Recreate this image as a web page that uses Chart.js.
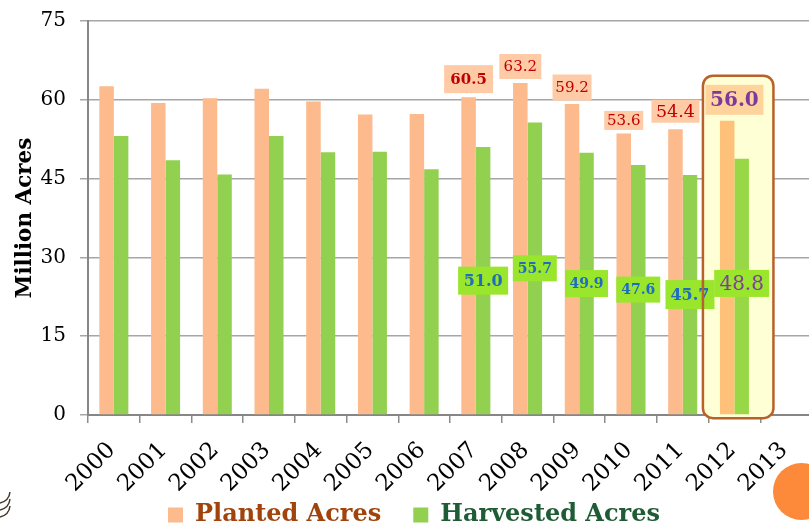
<!DOCTYPE html>
<html>
<head>
<meta charset="utf-8">
<script src="https://cdn.jsdelivr.net/npm/chart.js@4"></script>
<style>
  html, body { margin: 0; padding: 0; background: #fff; overflow: hidden; width: 809px; height: 527px; }
  #wrap { width: 820px; height: 535px; position: relative; }
</style>
</head>
<body>
<div id="wrap"><canvas id="chart"></canvas></div>
<script>
const years = ["2000", "2001", "2002", "2003", "2004", "2005", "2006", "2007", "2008", "2009", "2010", "2011", "2012", "2013"];
const planted = [62.6, 59.4, 60.3, 62.1, 59.7, 57.2, 57.3, 60.5, 63.2, 59.2, 53.6, 54.4, 56.0, null];
const harvested = [53.1, 48.5, 45.8, 53.1, 50.0, 50.1, 46.8, 51.0, 55.7, 49.9, 47.6, 45.7, 48.8, null];
const yTicks = [0, 15, 30, 45, 60, 75];
const labeledYears = ["2007", "2008", "2009", "2010", "2011", "2012"];
const highlightYear = "2012";

const SERIF = "'DejaVu Serif', 'Liberation Serif', serif";
const hi = years.indexOf(highlightYear);

// look of the value boxes, per year
const plantedBox = {
  "2007": { w: 49, h: 28, gap: 4, size: 15, weight: "bold" },
  "2008": { w: 42, h: 25, gap: 4, size: 15, weight: "normal" },
  "2009": { w: 39, h: 26, gap: 3.5, size: 15, weight: "normal" },
  "2010": { w: 39, h: 19, gap: 3.5, size: 15, weight: "normal" },
  "2011": { w: 48, h: 23, gap: 6.5, size: 17.5, weight: "normal" },
  "2012": { w: 58, h: 30, gap: 6, size: 20, weight: "bold", color: "#7a3b9c", bg: "#ffd49c", onCategory: true }
};
const harvestedBox = {
  "2007": { w: 50, h: 28, size: 16, weight: "bold" },
  "2008": { w: 44, h: 26, size: 14, weight: "bold" },
  "2009": { w: 43, h: 27, size: 14, weight: "bold" },
  "2010": { w: 44, h: 26, size: 14, weight: "bold" },
  "2011": { w: 49, h: 29, size: 16, weight: "bold" },
  "2012": { w: 55, h: 27, size: 20, weight: "normal", color: "#7f3f98", dy: -3 }
};

function drawBox(ctx, cx, cy, st, text, defColor, defBg) {
  ctx.save();
  ctx.fillStyle = st.bg || defBg;
  ctx.fillRect(cx - st.w / 2, cy - st.h / 2, st.w, st.h);
  ctx.fillStyle = st.color || defColor;
  ctx.font = st.weight + " " + st.size + "px " + SERIF;
  ctx.textAlign = "center";
  ctx.textBaseline = "middle";
  ctx.fillText(text, cx, cy + 1);
  ctx.restore();
}

function highlightRect(chart) {
  const xs = chart.scales.x, ys = chart.scales.y;
  const c = xs.getPixelForValue(hi);
  const top = ys.getPixelForValue(64.6);
  const bottom = ys.getPixelForValue(-0.6);
  return { x: c - 31.5, y: top, w: 70.5, h: bottom - top };
}

// let the rotated year labels run below the axis box, nudge the legend
const layoutTweaks = {
  id: "layoutTweaks",
  afterLayout(chart) {
    chart.scales.x.bottom = chart.height;
    const lg = chart.legend;
    lg.left += 8; lg.right += 8;
    lg.top += 2; lg.bottom += 2;
  }
};

const highlightFill = {
  id: "highlightFill",
  beforeDatasetsDraw(chart) {
    const r = highlightRect(chart);
    const ctx = chart.ctx;
    ctx.save();
    ctx.fillStyle = "#ffffd6";
    ctx.beginPath();
    ctx.roundRect(r.x, r.y, r.w, r.h, 10);
    ctx.fill();
    ctx.restore();
  }
};

const valueBoxes = {
  id: "valueBoxes",
  afterDatasetsDraw(chart) {
    const ctx = chart.ctx;
    const xs = chart.scales.x;
    labeledYears.forEach(year => {
      const i = years.indexOf(year);
      const pBar = chart.getDatasetMeta(0).data[i];
      const hBar = chart.getDatasetMeta(1).data[i];
      const ps = plantedBox[year];
      const px = ps.onCategory ? xs.getPixelForValue(i) : pBar.x;
      drawBox(ctx, px, pBar.y - ps.gap - ps.h / 2, ps, planted[i].toFixed(1), "#c00000", "#ffcaa6");
      const hs = harvestedBox[year];
      const hy = (hBar.y + hBar.base) / 2 + (hs.dy || 0);
      drawBox(ctx, hBar.x, hy, hs, harvested[i].toFixed(1), "#1e6cc0", "#9ae62c");
    });
  }
};

const highlightBorder = {
  id: "highlightBorder",
  afterDatasetsDraw(chart) {
    const r = highlightRect(chart);
    const ctx = chart.ctx;
    ctx.save();
    ctx.strokeStyle = "#b9612b";
    ctx.lineWidth = 2.5;
    ctx.beginPath();
    ctx.roundRect(r.x, r.y, r.w, r.h, 10);
    ctx.stroke();
    ctx.restore();
  }
};

// slide decorations: orange dot bottom right, logo strokes bottom left
const decorations = {
  id: "decorations",
  afterDraw(chart) {
    const ctx = chart.ctx;
    ctx.save();
    ctx.fillStyle = "#fc8a3a";
    ctx.beginPath();
    ctx.arc(801.5, 491.5, 28.5, 0, Math.PI * 2);
    ctx.fill();
    ctx.strokeStyle = "#45382a";
    ctx.lineWidth = 1.5;
    [492, 499, 506].forEach(y0 => {
      ctx.beginPath();
      ctx.moveTo(0, y0 + 11);
      ctx.quadraticCurveTo(9, y0 + 9, 10, y0);
      ctx.stroke();
    });
    ctx.restore();
  }
};

new Chart(document.getElementById("chart"), {
  type: "bar",
  data: {
    labels: years,
    datasets: [
      {
        label: "Planted Acres",
        data: planted,
        backgroundColor: years.map((y, i) => i === hi ? "#ffc07a" : "#fcba8d")
      },
      {
        label: "Harvested Acres",
        data: harvested,
        backgroundColor: years.map((y, i) => i === hi ? "#98d846" : "#92d050")
      }
    ]
  },
  options: {
    responsive: true,
    maintainAspectRatio: false,
    animation: false,
    categoryPercentage: 0.561,
    barPercentage: 1.0,
    layout: { padding: { top: 21, right: 8, left: 0, bottom: 0 } },
    plugins: {
      tooltip: { enabled: false },
      legend: {
        position: "bottom",
        labels: {
          boxWidth: 15,
          boxHeight: 15,
          padding: 32,
          font: { family: SERIF, size: 24, weight: "bold" },
          generateLabels: () => [
            { text: "Planted Acres", fillStyle: "#fcba8d", strokeStyle: "#fcba8d", lineWidth: 0, fontColor: "#a0440c", datasetIndex: 0, hidden: false },
            { text: "Harvested Acres", fillStyle: "#92d050", strokeStyle: "#92d050", lineWidth: 0, fontColor: "#1f5c36", datasetIndex: 1, hidden: false }
          ]
        }
      }
    },
    scales: {
      x: {
        grid: { offset: true, drawOnChartArea: false, drawTicks: true, tickLength: 8, color: "#8c8c8c", lineWidth: 1.5 },
        border: { color: "#868686", width: 2 },
        ticks: {
          autoSkip: false,
          minRotation: 45,
          maxRotation: 45,
          padding: 14,
          labelOffset: -2,
          color: "#000",
          font: { family: SERIF, size: 23 }
        },
        afterFit: s => { s.height = 54; s.paddingLeft = 0; s.paddingRight = 0; }
      },
      y: {
        min: 0,
        max: 75,
        afterBuildTicks: s => { s.ticks = yTicks.map(v => ({ value: v })); },
        grid: { color: "#a6a6a6", lineWidth: 1.5, tickLength: 8 },
        border: { color: "#868686", width: 2 },
        ticks: { padding: 14, color: "#000", font: { family: SERIF, size: 20 } },
        title: {
          display: true,
          text: "Million Acres",
          color: "#000",
          padding: { top: 13 },
          font: { family: SERIF, size: 21.5, weight: "bold" }
        },
        afterFit: s => { s.width = 88; s.paddingTop = 0; s.paddingBottom = 0; }
      }
    }
  },
  plugins: [layoutTweaks, highlightFill, valueBoxes, highlightBorder, decorations]
});
</script>
</body>
</html>
